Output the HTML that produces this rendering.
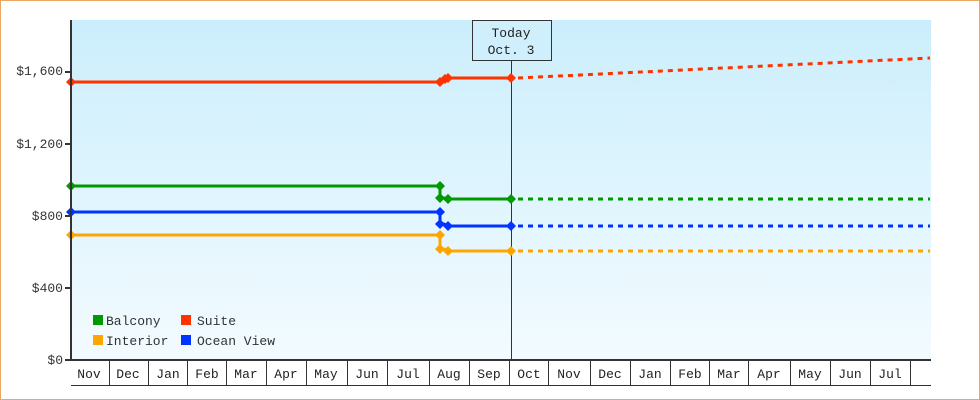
<!DOCTYPE html>
<html><head><meta charset="utf-8"><style>
html,body{margin:0;padding:0;background:#fff}
svg{display:block;font-family:"Liberation Mono","DejaVu Sans Mono",monospace}
</style></head><body>
<svg width="980" height="400" viewBox="0 0 980 400" xmlns="http://www.w3.org/2000/svg">
<defs>
<linearGradient id="bg" x1="0" y1="0" x2="0" y2="1">
<stop offset="0" stop-color="#cbeefc"/><stop offset="1" stop-color="#f3fbff"/>
</linearGradient>
<symbol id="d" viewBox="-5 -5 10 10" overflow="visible"><path d="M0 -5L5 0L0 5L-5 0Z"/></symbol>
</defs>
<rect x="0.5" y="0.5" width="979" height="399" fill="#fff" stroke="#e8a862"/>
<rect x="71" y="20" width="860" height="340" fill="url(#bg)"/>
<line x1="511.5" y1="60" x2="511.5" y2="360" stroke="#333" stroke-width="1"/>
<rect x="472.5" y="20.5" width="79" height="40" fill="#d0effc" stroke="#333"/>
<text x="511" y="37" font-size="13" text-anchor="middle" fill="#222">Today</text>
<text x="511" y="54" font-size="13" text-anchor="middle" fill="#222">Oct. 3</text>
<g fill="none" stroke-width="3">
<polyline stroke="#ff3300" points="71,82 440,82 440,80 444,79 448,78 511,78"/>
<polyline stroke="#ff3300" stroke-dasharray="5,5" points="518,78 930,58"/>
<polyline stroke="#009900" points="71,186 440,186 440,198 444,198 448,199 511,199"/>
<polyline stroke="#009900" stroke-dasharray="5,5" points="518,199 930,199"/>
<polyline stroke="#0033ff" points="71,212 440,212 440,224 444,224 448,226 511,226"/>
<polyline stroke="#0033ff" stroke-dasharray="5,5" points="518,226 930,226"/>
<polyline stroke="#ffa500" points="71,235 440,235 440,249 444,249 448,251 511,251"/>
<polyline stroke="#ffa500" stroke-dasharray="5,5" points="518,251 930,251"/>
</g>
<g fill="#ff3300"><use href="#d" x="66" y="77" width="10" height="10"/><use href="#d" x="435" y="77" width="10" height="10"/><use href="#d" x="440" y="74" width="10" height="10"/><use href="#d" x="443" y="73" width="10" height="10"/><use href="#d" x="506" y="73" width="10" height="10"/></g>
<g fill="#009900"><use href="#d" x="66" y="181" width="10" height="10"/><use href="#d" x="435" y="181" width="10" height="10"/><use href="#d" x="435" y="193" width="10" height="10"/><use href="#d" x="443" y="194" width="10" height="10"/><use href="#d" x="506" y="194" width="10" height="10"/></g>
<g fill="#0033ff"><use href="#d" x="66" y="207" width="10" height="10"/><use href="#d" x="435" y="207" width="10" height="10"/><use href="#d" x="435" y="219" width="10" height="10"/><use href="#d" x="443" y="221" width="10" height="10"/><use href="#d" x="506" y="221" width="10" height="10"/></g>
<g fill="#ffa500"><use href="#d" x="66" y="230" width="10" height="10"/><use href="#d" x="435" y="230" width="10" height="10"/><use href="#d" x="435" y="244" width="10" height="10"/><use href="#d" x="443" y="246" width="10" height="10"/><use href="#d" x="506" y="246" width="10" height="10"/></g>
<line x1="71" y1="20" x2="71" y2="361" stroke="#333" stroke-width="2"/>
<g stroke="#333" stroke-width="2"><line x1="65" y1="360" x2="931" y2="360"/><line x1="65" y1="288" x2="71" y2="288"/><line x1="65" y1="216" x2="71" y2="216"/><line x1="65" y1="144" x2="71" y2="144"/><line x1="65" y1="72" x2="71" y2="72"/></g>
<g font-size="13" fill="#333" text-anchor="end">
<text x="63" y="364">$0</text><text x="63" y="292">$400</text><text x="63" y="220">$800</text><text x="63" y="148">$1,200</text><text x="63" y="75">$1,600</text>
</g>
<line x1="71" y1="385.5" x2="931" y2="385.5" stroke="#333"/>
<g stroke="#333">
<line x1="109.5" y1="361" x2="109.5" y2="385"/><line x1="148.5" y1="361" x2="148.5" y2="385"/><line x1="187.5" y1="361" x2="187.5" y2="385"/><line x1="226.5" y1="361" x2="226.5" y2="385"/><line x1="266.5" y1="361" x2="266.5" y2="385"/><line x1="306.5" y1="361" x2="306.5" y2="385"/><line x1="347.5" y1="361" x2="347.5" y2="385"/><line x1="387.5" y1="361" x2="387.5" y2="385"/><line x1="429.5" y1="361" x2="429.5" y2="385"/><line x1="469.5" y1="361" x2="469.5" y2="385"/><line x1="509.5" y1="361" x2="509.5" y2="385"/><line x1="548.5" y1="361" x2="548.5" y2="385"/><line x1="590.5" y1="361" x2="590.5" y2="385"/><line x1="630.5" y1="361" x2="630.5" y2="385"/><line x1="670.5" y1="361" x2="670.5" y2="385"/><line x1="709.5" y1="361" x2="709.5" y2="385"/><line x1="748.5" y1="361" x2="748.5" y2="385"/><line x1="790.5" y1="361" x2="790.5" y2="385"/><line x1="830.5" y1="361" x2="830.5" y2="385"/><line x1="870.5" y1="361" x2="870.5" y2="385"/><line x1="910.5" y1="361" x2="910.5" y2="385"/>
</g>
<g font-size="13" fill="#222" text-anchor="middle">
<text x="89" y="378">Nov</text><text x="128" y="378">Dec</text><text x="168" y="378">Jan</text><text x="207" y="378">Feb</text><text x="246" y="378">Mar</text><text x="286" y="378">Apr</text><text x="326" y="378">May</text><text x="367" y="378">Jun</text><text x="408" y="378">Jul</text><text x="449" y="378">Aug</text><text x="489" y="378">Sep</text><text x="529" y="378">Oct</text><text x="569" y="378">Nov</text><text x="610" y="378">Dec</text><text x="650" y="378">Jan</text><text x="690" y="378">Feb</text><text x="729" y="378">Mar</text><text x="769" y="378">Apr</text><text x="810" y="378">May</text><text x="850" y="378">Jun</text><text x="890" y="378">Jul</text>
</g>
<rect x="93" y="315" width="10" height="10" fill="#009900"/><text x="106" y="325" font-size="13" fill="#333">Balcony</text>
<rect x="181" y="315" width="10" height="10" fill="#ff3300"/><text x="197" y="325" font-size="13" fill="#333">Suite</text>
<rect x="93" y="335" width="10" height="10" fill="#ffa500"/><text x="106" y="345" font-size="13" fill="#333">Interior</text>
<rect x="181" y="335" width="10" height="10" fill="#0033ff"/><text x="197" y="345" font-size="13" fill="#333">Ocean View</text>
</svg>
</body></html>
